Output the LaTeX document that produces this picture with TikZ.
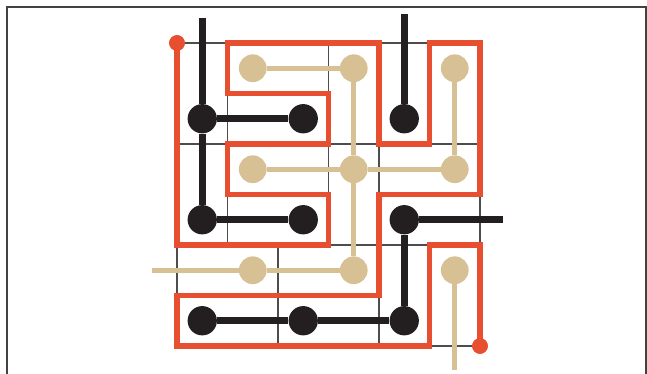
\documentclass[tikz,border=0pt]{standalone}
\usepackage{xcolor}
\usetikzlibrary{positioning}

\definecolor{flame}{HTML}{E84F30}
\definecolor{sand}{HTML}{D8C095}
\definecolor{ink}{HTML}{231F20}

\begin{document}
\begin{tikzpicture}[
    x=1cm, y=-1cm,
    blackdot/.style={circle, fill=ink, inner sep=0pt, minimum size=0.58cm},
    tandot/.style={circle, fill=sand, inner sep=0pt, minimum size=0.55cm},
    reddot/.style={circle, fill=flame, inner sep=0pt, minimum size=0.31cm},
    blackedge/.style={draw=ink, line width=3.8pt},
    tanedge/.style={draw=sand, line width=3pt},
    redpath/.style={draw=flame, line width=3.3pt},
    gridline/.style={draw=ink!80, line width=0.6pt},
    frameline/.style={draw=ink!85, line width=0.8pt}
]
\useasboundingbox (-3.505,-0.851) rectangle (9.307,6.554);

\draw [frameline] (-3.366,6.6) -- (-3.366,-0.713) -- (9.29,-0.713) -- (9.29,6.6);

\draw [gridline] (0,0) -- (6,0) (0,2) -- (6,2) (0,4) -- (6,4) (0,6) -- (6,6);
\draw [gridline] (0,0) -- (0,6) (6,0) -- (6,6);
\draw [gridline] (1,0) -- (1,4) (3,0) -- (3,4) (4,2) -- (4,6) (2,4) -- (2,6);

\node[reddot] (start) at (0,0) {};
\node[reddot] (finish) at (6,6) {};
\draw [redpath] (start.center) -- (0,4) -- (3,4) -- (3,3) -- (1,3) -- (1,2) -- (3,2) -- (3,1)
    -- (1,1) -- (1,0) -- (4,0) -- (4,2) -- (5,2) -- (5,0) -- (6,0) -- (6,3) -- (4,3)
    -- (4,5) -- (0,5) -- (0,6) -- (5,6) -- (5,4) -- (6,4) -- (finish.center);
\node[reddot] at (start) {};
\node[reddot] at (finish) {};

\node[tandot] (t11) at (1.5,0.5) {};
\node[tandot] (t12) at (3.5,0.5) {};
\node[tandot] (t13) at (5.5,0.5) {};
\node[tandot] (t21) at (1.5,2.5) {};
\node[tandot] (t22) at (3.5,2.5) {};
\node[tandot] (t23) at (5.5,2.5) {};
\node[tandot] (t31) at (1.5,4.5) {};
\node[tandot] (t32) at (3.5,4.5) {};
\node[tandot] (t33) at (5.5,4.5) {};
\coordinate (tanW) at (-0.5,4.5);
\coordinate (tanS) at (5.5,6.47);

\node[blackdot] (b11) at (0.5,1.5) {};
\node[blackdot] (b12) at (2.5,1.5) {};
\node[blackdot] (b13) at (4.5,1.5) {};
\node[blackdot] (b21) at (0.5,3.5) {};
\node[blackdot] (b22) at (2.5,3.5) {};
\node[blackdot] (b23) at (4.5,3.5) {};
\node[blackdot] (b31) at (0.5,5.5) {};
\node[blackdot] (b32) at (2.5,5.5) {};
\node[blackdot] (b33) at (4.5,5.5) {};
\coordinate (blackN1) at (0.5,-0.5);
\coordinate (blackN2) at (4.5,-0.57);
\coordinate (blackE) at (6.45,3.5);

\draw [tanedge] (t11) -- (t12);
\draw [tanedge] (t12) -- (t22);
\draw [tanedge] (t13) -- (t23);
\draw [tanedge] (t21) -- (t22);
\draw [tanedge] (t22) -- (t23);
\draw [tanedge] (t22) -- (t32);
\draw [tanedge] (t31) -- (t32);
\draw [tanedge] (tanW) -- (t31);
\draw [tanedge] (t33) -- (tanS);

\draw [blackedge] (blackN1) -- (b11);
\draw [blackedge] (b11) -- (b12);
\draw [blackedge] (b11) -- (b21);
\draw [blackedge] (b21) -- (b22);
\draw [blackedge] (blackN2) -- (b13);
\draw [blackedge] (b23) -- (blackE);
\draw [blackedge] (b23) -- (b33);
\draw [blackedge] (b31) -- (b32);
\draw [blackedge] (b32) -- (b33);
\end{tikzpicture}
\end{document}
